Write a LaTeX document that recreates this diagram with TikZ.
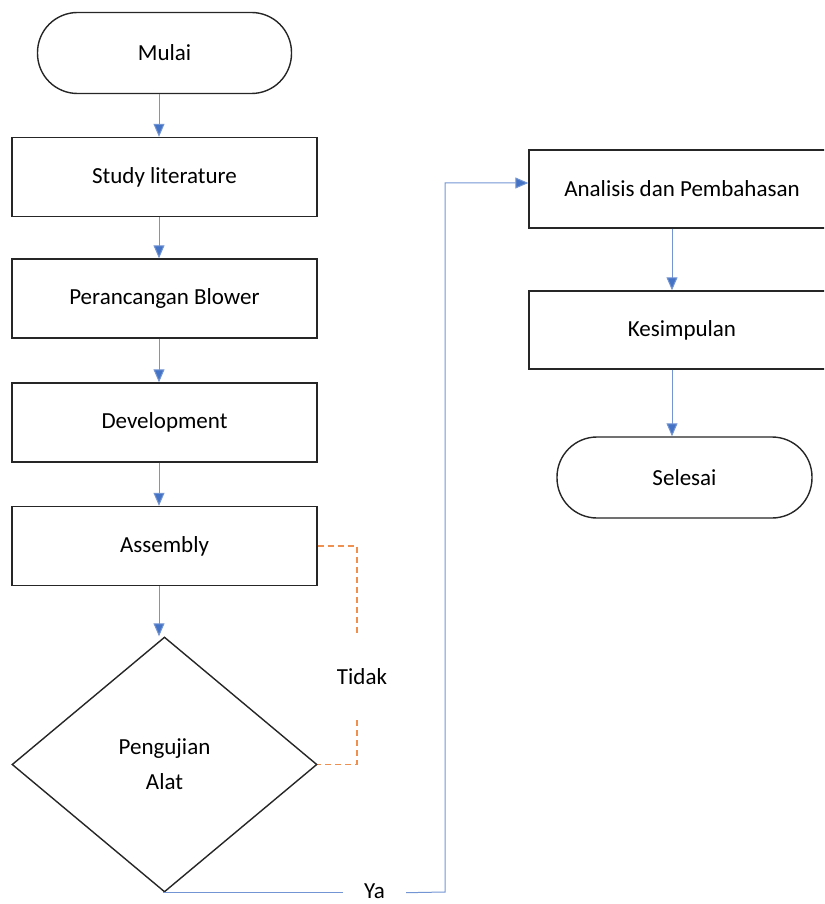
\documentclass[tikz,border=0pt]{standalone}
\usepackage{fontspec}
\setmainfont{Carlito}
\usetikzlibrary{arrows.meta,shapes.geometric}
\definecolor{flowblue}{RGB}{68,114,196}
\definecolor{tidakorange}{RGB}{237,125,49}

\begin{document}
\begin{tikzpicture}[x=1pt,y=-1pt,
    box/.style={draw=black!85,line width=1.4pt,fill=white,minimum width=305pt,minimum height=79pt,inner sep=0pt,font=\fontsize{23}{27}\selectfont},
    ujung/.style={box,rounded corners=40pt,minimum width=254pt,minimum height=81pt},
    flow/.style={draw=flowblue!75,line width=1pt,-{Triangle[length=13pt,width=11pt,fill=flowblue]}},
    tidakline/.style={draw=tidakorange!85,line width=1.3pt,dash pattern=on 6pt off 4pt}]
    \clip (0,0) rectangle (824,904);
    	\node[ujung] (mulai) at (164.5,53) {Mulai};
    	\node[box] (study) at (164.5,177) {Study literature};
    	\node[box] (rancang) at (164.5,298.5) {Perancangan Blower};
    	\node[box] (develop) at (164.5,422.5) {Development};
    	\node[box] (assembly) at (164.5,546) {Assembly};
    	\node[box,diamond,aspect=1.196,minimum width=305pt,minimum height=255pt,align=center,font=\fontsize{23}{35}\selectfont] (uji) at (164.5,764.5) {Pengujian\\Alat};
    	\node[box,minimum width=306pt,minimum height=78pt] (analisis) at (682,189) {Analisis dan Pembahasan};
    	\node[box,minimum width=306pt,minimum height=78pt] (simpul) at (682,330) {Kesimpulan};
    	\node[ujung,minimum width=255pt] (selesai) at (684.5,477.5) {Selesai};
    	\node[font=\fontsize{23}{27}\selectfont,minimum height=86pt,inner sep=0pt] (tidak) at (362,677) {Tidak};
    	\node[font=\fontsize{23}{27}\selectfont,inner xsep=21pt,inner ysep=0pt] (ya) at (374.5,891) {Ya};
    	\draw[flow] ([xshift=-5.5pt]mulai.south) -- ([xshift=-5.5pt]study.north);
    	\draw[flow] ([xshift=-5.5pt]study.south) -- ([xshift=-5.5pt]rancang.north);
    	\draw[flow] ([xshift=-5.5pt]rancang.south) -- ([xshift=-5.5pt]develop.north);
    	\draw[flow] ([xshift=-5.5pt]develop.south) -- ([xshift=-5.5pt]assembly.north);
    	\draw[flow] ([xshift=-5.5pt]assembly.south) -- ([xshift=-5.5pt]uji.north);
    	\draw[flow] ([xshift=-10pt]analisis.south) -- ([xshift=-10pt]simpul.north);
    	\draw[flow] ([xshift=-10pt]simpul.south) -- ([xshift=-10pt]simpul.south |- selesai.north);
    	\draw[tidakline] (assembly.east) -| ([xshift=-5pt]tidak.north);
    	\draw[tidakline] ([xshift=-5pt]tidak.south) |- (uji.east);
    	\draw[flow,-] ([xshift=-1.5pt]uji.south) -- (uji.south -| ya.west);
    	\draw[flow] (uji.south -| ya.east) -- (445,892) |- ([yshift=6pt]analisis.west);
\end{tikzpicture}
\end{document}
